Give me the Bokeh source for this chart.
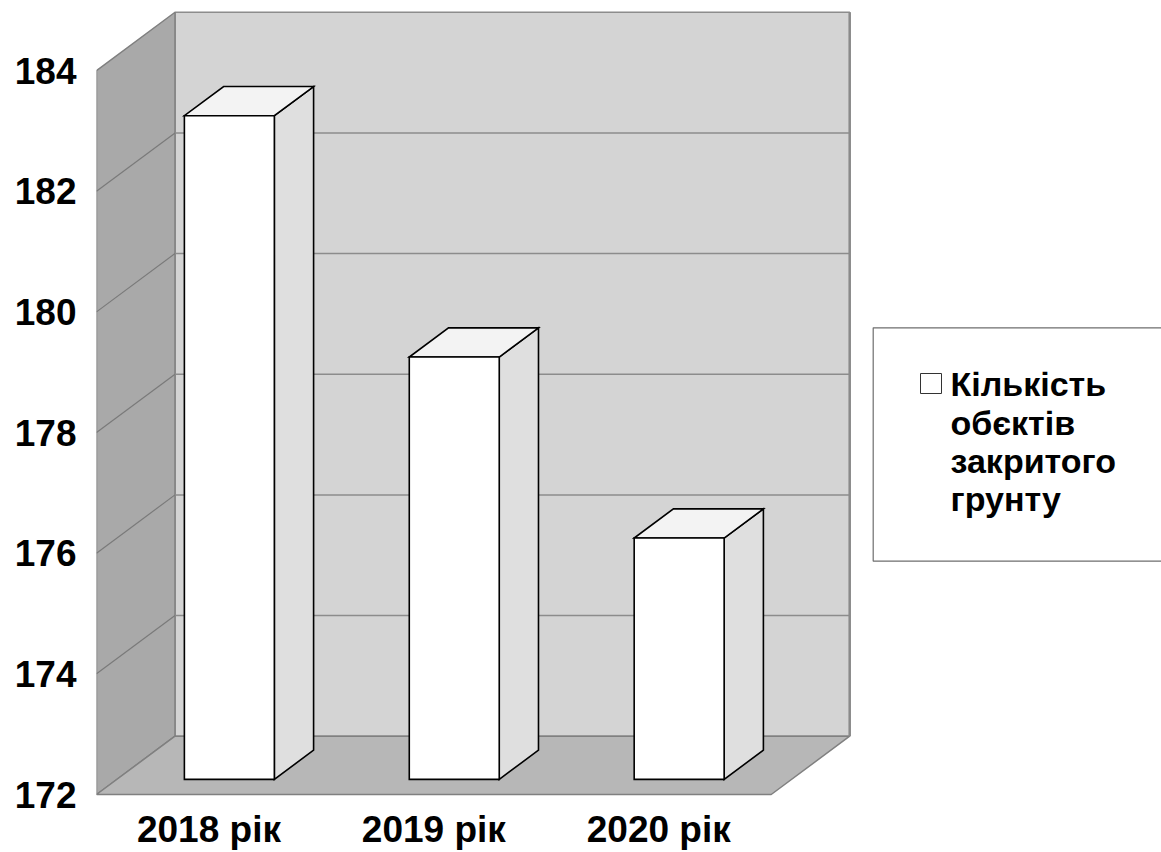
from bokeh.plotting import figure
from bokeh.models import Range1d, FixedTicker, ColumnDataSource
from bokeh.core.properties import value
from bokeh.embed import file_html
from bokeh.resources import INLINE

# ---- data ----
categories = ["2018 рік", "2019 рік", "2020 рік"]
counts = [183, 179, 176]
y_ticks = [172, 174, 176, 178, 180, 182, 184]
legend_lines = ["Кількість", "обєктів", "закритого", "грунту"]

# ---- layout constants ----
W, H = 1161, 852
LEFT = 96                 # frame left border (px)
PX_X = 224.9              # px per category unit
PX_Y = 60.33              # px per value unit
FLOOR_PX = 58             # px from frame bottom to the front floor line
Y0, Y1 = y_ticks[0], y_ticks[-1]
n = len(categories)

y_start = Y0 - FLOOR_PX / PX_Y
y_end = y_start + H / PX_Y
x_end = (W - LEFT) / PX_X

DX = 78.5 / PX_X          # depth offset (3D) in data units
DY = 58.3 / PX_Y

FRONT_PX_X = 96.0         # image x of front plane left
FRONT_PX_Y = 794.0        # image y of front floor line
BASE_FIX = 0.375          # empirical baseline correction (em)


def dx(px):  # image px -> data x
    return (px - FRONT_PX_X) / PX_X


def dy(px):  # image px -> data y
    return Y0 + (FRONT_PX_Y - px) / PX_Y


FONT = value("Liberation Sans")

p = figure(width=W, height=H,
           x_range=Range1d(0, x_end), y_range=Range1d(y_start, y_end),
           output_backend="svg", toolbar_location=None,
           x_axis_location=None, y_axis_location="left",
           min_border_left=LEFT, min_border_right=0,
           min_border_top=0, min_border_bottom=0)
p.outline_line_color = None
p.grid.visible = False
p.background_fill_color = "white"
p.border_fill_color = "white"

ax = p.yaxis[0]
ax.ticker = FixedTicker(ticks=y_ticks)
ax.axis_line_color = None
ax.major_tick_line_color = None
ax.minor_tick_line_color = None
ax.major_tick_out = 0
ax.major_tick_in = 0
ax.major_label_standoff = 20
ax.major_label_text_font = "Liberation Sans"
ax.major_label_text_font_style = "bold"
ax.major_label_text_font_size = "37px"
ax.major_label_text_color = "black"

# ---- walls & floor ----
p.quad(left=DX, right=n + DX, bottom=Y0 + DY, top=Y1 + DY,
       fill_color="#d4d4d4", line_color="#8c8c8c", line_width=1.5)
p.patch([0, 0, DX, DX], [Y0, Y1, Y1 + DY, Y0 + DY],
        fill_color="#a9a9a9", line_color="#808080", line_width=1.5)
p.patch([0, n, n + DX, DX], [Y0, Y0, Y0 + DY, Y0 + DY],
        fill_color="#b7b7b7", line_color="#808080", line_width=1.5)
# back wall right edge (thicker)
p.segment(x0=[n + DX], y0=[Y0 + DY], x1=[n + DX], y1=[Y1 + DY],
          line_color="#8a8a8a", line_width=2.5)

# ---- gridlines ----
inner = y_ticks[1:-1]
p.segment(x0=[DX] * len(inner), y0=[t + DY for t in inner],
          x1=[n + DX] * len(inner), y1=[t + DY for t in inner],
          line_color="#8c8c8c", line_width=1.5)
p.segment(x0=[0] * len(inner), y0=inner,
          x1=[DX] * len(inner), y1=[t + DY for t in inner],
          line_color="#7a7a7a", line_width=1.2)

# ---- 3D bars ----
F, G, BW = 0.26, 0.5, 0.40
xl = [i + 0.5 - BW / 2 + F * DX for i in range(n)]
xr = [x + BW for x in xl]
yb = [Y0 + F * DY] * n
yt = [v + F * DY for v in counts]

side_xs = [[r, r, r + G * DX, r + G * DX] for r in xr]
side_ys = [[b, t, t + G * DY, b + G * DY] for b, t in zip(yb, yt)]
top_xs = [[l, r, r + G * DX, l + G * DX] for l, r in zip(xl, xr)]
top_ys = [[t, t, t + G * DY, t + G * DY] for t in yt]

p.patches(side_xs, side_ys, fill_color="#dfdfdf", line_color="black",
          line_width=1.6, line_join="miter")
p.patches(top_xs, top_ys, fill_color="#f3f3f3", line_color="black",
          line_width=1.6, line_join="miter")
src = ColumnDataSource(dict(left=xl, right=xr, bottom=yb, top=yt))
p.quad(left="left", right="right", bottom="bottom", top="top", source=src,
       fill_color="white", line_color="black", line_width=1.6, line_join="miter")

# ---- category labels ----
XL_FS = 37
p.text(x=[i + 0.5 for i in range(n)], y=[dy(843 - BASE_FIX * XL_FS)] * n,
       text=categories,
       text_align="center", text_baseline="alphabetic", text_font=FONT,
       text_font_style="bold", text_font_size=f"{XL_FS}px", text_color="black")

# ---- legend ----
LG_FS = 34
p.quad(left=dx(872.7), right=x_end + 1, top=dy(327.3), bottom=dy(560.7),
       fill_color="white", line_color="#6e6e6e", line_width=1.2)
p.quad(left=dx(920), right=dx(941), top=dy(373), bottom=dy(393),
       fill_color="white", line_color="#333333", line_width=1)
p.text(x=[dx(950)] * len(legend_lines),
       y=[dy(396.7 + 38.3 * k - BASE_FIX * LG_FS) for k in range(len(legend_lines))],
       text=legend_lines, text_align="left", text_baseline="alphabetic",
       text_font=FONT, text_font_style="bold", text_font_size=f"{LG_FS}px",
       text_color="black")

open("out.html", "w").write(file_html(p, INLINE))
